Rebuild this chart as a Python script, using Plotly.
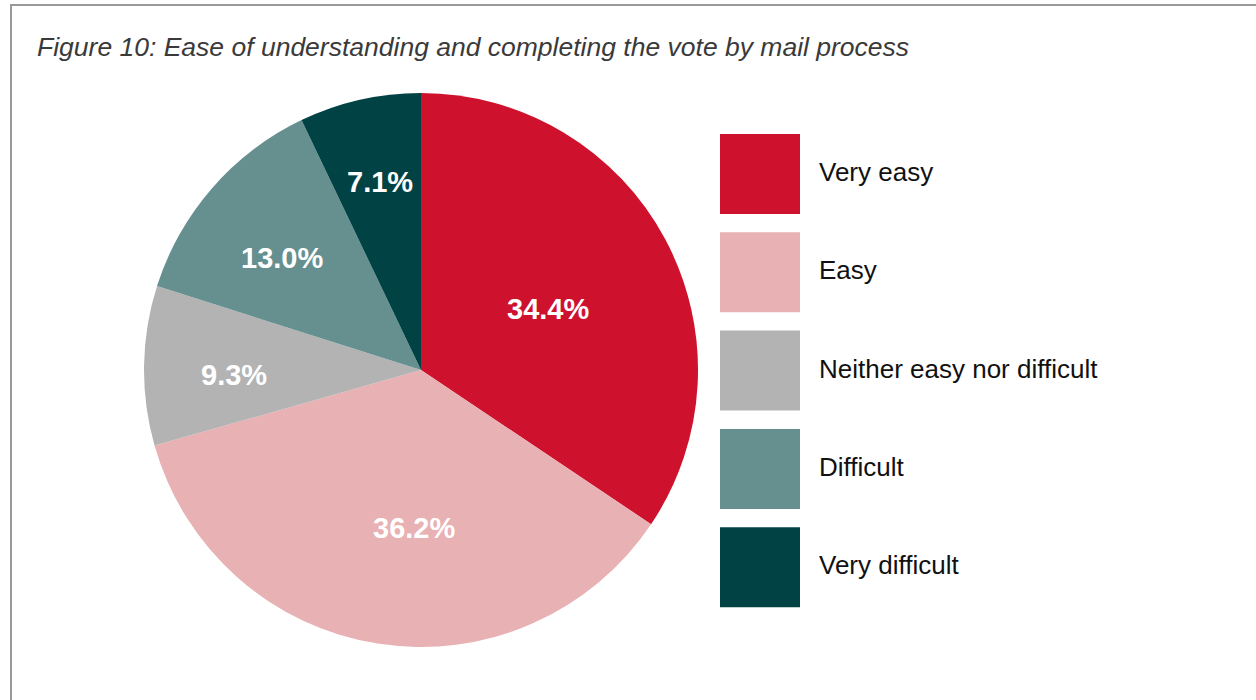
import math
import plotly.graph_objects as go

# Survey responses: ease of understanding and completing the vote-by-mail process
categories = ["Very easy", "Easy", "Neither easy nor difficult", "Difficult", "Very difficult"]
shares = [34.4, 36.2, 9.3, 13.0, 7.1]
colors = ["#CE112D", "#E8B1B3", "#B3B3B3", "#66908F", "#014345"]

title_text = "Figure 10: Ease of understanding and completing the vote by mail process"

# Placement of each percentage label inside its slice:
# fraction along the slice's arc, and fraction of the radius
label_arc_frac = [0.52, 0.45, 0.43, 0.45, 0.52]
label_rad_frac = [0.51, 0.57, 0.675, 0.645, 0.695]

W, H = 1256, 700
FONT = "Liberation Sans, Arial, Helvetica, sans-serif"

# Pie geometry in pixels
cx, cy, R = 421, 370, 277

fig = go.Figure()
fig.add_trace(go.Pie(
    labels=categories,
    values=shares,
    sort=False,
    direction="clockwise",
    rotation=0,
    marker=dict(colors=colors, line=dict(width=0)),
    textinfo="none",
    domain=dict(x=[(cx - R) / W, (cx + R) / W], y=[1 - (cy + R) / H, 1 - (cy - R) / H]),
    showlegend=False,
    hoverinfo="label+percent",
))

shapes = []
annotations = []

# Percentage labels positioned from the cumulative slice angles
total = sum(shares)
start = 0.0
for v, af, rf in zip(shares, label_arc_frac, label_rad_frac):
    span = 360.0 * v / total
    ang = math.radians(start + af * span)
    px = cx + rf * R * math.sin(ang)
    py = cy - rf * R * math.cos(ang)
    annotations.append(dict(x=px / W, y=1 - py / H, xref="paper", yref="paper",
                            text=f"<b>{v:.1f}%</b>", showarrow=False,
                            xanchor="center", yanchor="middle",
                            font=dict(family=FONT, size=29, color="white")))
    start += span

# Frame lines (top and left)
frame = dict(type="line", xref="paper", yref="paper", line=dict(color="#999999", width=2))
shapes.append({**frame, "x0": 10 / W, "x1": 1.0, "y0": 1 - 5 / H, "y1": 1 - 5 / H})
shapes.append({**frame, "x0": 11 / W, "x1": 11 / W, "y0": 0, "y1": 1 - 5 / H})

# Legend with large square swatches
sw_x0, sw_size, sw_top, sw_step = 720, 80, 134, 98.3
for i, (name, col) in enumerate(zip(categories, colors)):
    top = sw_top + i * sw_step
    shapes.append(dict(type="rect", xref="paper", yref="paper",
                       x0=sw_x0 / W, x1=(sw_x0 + sw_size) / W,
                       y0=1 - (top + sw_size) / H, y1=1 - top / H,
                       fillcolor=col, line=dict(width=0)))
    annotations.append(dict(x=817 / W, y=1 - (top + sw_size / 2 - 2) / H, xref="paper", yref="paper",
                            text=name, showarrow=False, xanchor="left", yanchor="middle",
                            font=dict(family=FONT, size=26, color="#111111")))

annotations.append(dict(x=35 / W, y=1 - 47 / H, xref="paper", yref="paper",
                        text=f"<i>{title_text}</i>", showarrow=False, xanchor="left", yanchor="middle",
                        font=dict(family=FONT, size=26.5, color="#3a3a3a")))

fig.update_layout(
    width=W, height=H,
    margin=dict(l=0, r=0, t=0, b=0),
    paper_bgcolor="white",
    plot_bgcolor="white",
    shapes=shapes,
    annotations=annotations,
)

fig.write_html("out.html")
